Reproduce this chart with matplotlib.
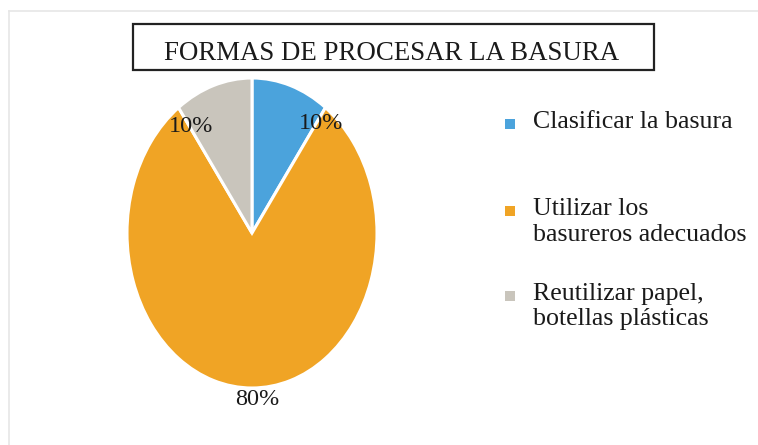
import matplotlib
matplotlib.use("Agg")
import matplotlib.pyplot as plt
from matplotlib.patches import Rectangle
from matplotlib.lines import Line2D

# ---- data ----
title = "FORMAS DE PROCESAR LA BASURA"
categories = ["Clasificar la basura",
              "Utilizar los\nbasureros adecuados",
              "Reutilizar papel,\nbotellas plásticas"]
values = [10, 80, 10]
colors = ["#4ba3dc", "#f0a425", "#c9c5bc"]

W, H = 758, 445
fig = plt.figure(figsize=(W / 100, H / 100), dpi=100)
fig.patch.set_facecolor("white")

def fx(px):
    return px / W

def fy(py):
    return 1 - py / H

serif = ["Liberation Serif", "DejaVu Serif"]
txt_col = "#1a1a1a"

# faint outer frame (top and left edges)
fig.add_artist(Line2D([fx(9), fx(758)], [fy(11), fy(11)], color="#e6e6e6", lw=1.2))
fig.add_artist(Line2D([fx(9), fx(9)], [fy(11), fy(445)], color="#e6e6e6", lw=1.2))

# title box
fig.add_artist(Rectangle((fx(133), fy(70)), fx(654) - fx(133), fy(24) - fy(70),
                         transform=fig.transFigure, fill=False,
                         edgecolor="#222222", lw=1.6))
fig.text(fx(392), fy(60), title, ha="center", va="baseline",
         fontsize=19.4, family=serif, color=txt_col)

# pie (elliptical: axes not equal aspect)
cx, cy, rx, ry = 252, 233, 125, 155
ax = fig.add_axes([fx(cx - rx), fy(cy + ry), 2 * rx / W, 2 * ry / H])
wedges, _ = ax.pie(values, colors=colors, startangle=90, counterclock=False,
                   wedgeprops=dict(edgecolor="white", linewidth=2.2))
ax.set_aspect("auto")
ax.set_xlim(-1, 1)
ax.set_ylim(-1, 1)
ax.axis("off")

# percentage labels (layout positions in axes data units)
label_pos = [(0.552, 0.671), (0.04, -1.11), (-0.488, 0.652)]
for v, (lx, ly) in zip(values, label_pos):
    ax.text(lx, ly, f"{v}%", ha="center", va="baseline", fontsize=17.5,
            family=serif, color=txt_col, clip_on=False)

# legend (manual layout)
leg_first_baseline = [128, 215, 300]
line_gap = 25.5
sq_x, sq_size, text_x = 505, 10, 533
for lab, col, base in zip(categories, colors, leg_first_baseline):
    lines = lab.split("\n")
    for i, ln in enumerate(lines):
        fig.text(fx(text_x), fy(base + i * line_gap), ln, ha="left", va="baseline",
                 fontsize=18.6, family=serif, color=txt_col)
    sy = base - 4
    fig.add_artist(Rectangle((fx(sq_x), fy(sy + sq_size / 2)), sq_size / W, sq_size / H,
                             transform=fig.transFigure, facecolor=col, edgecolor="none"))

fig.savefig("out.png", dpi=100, facecolor="white")
